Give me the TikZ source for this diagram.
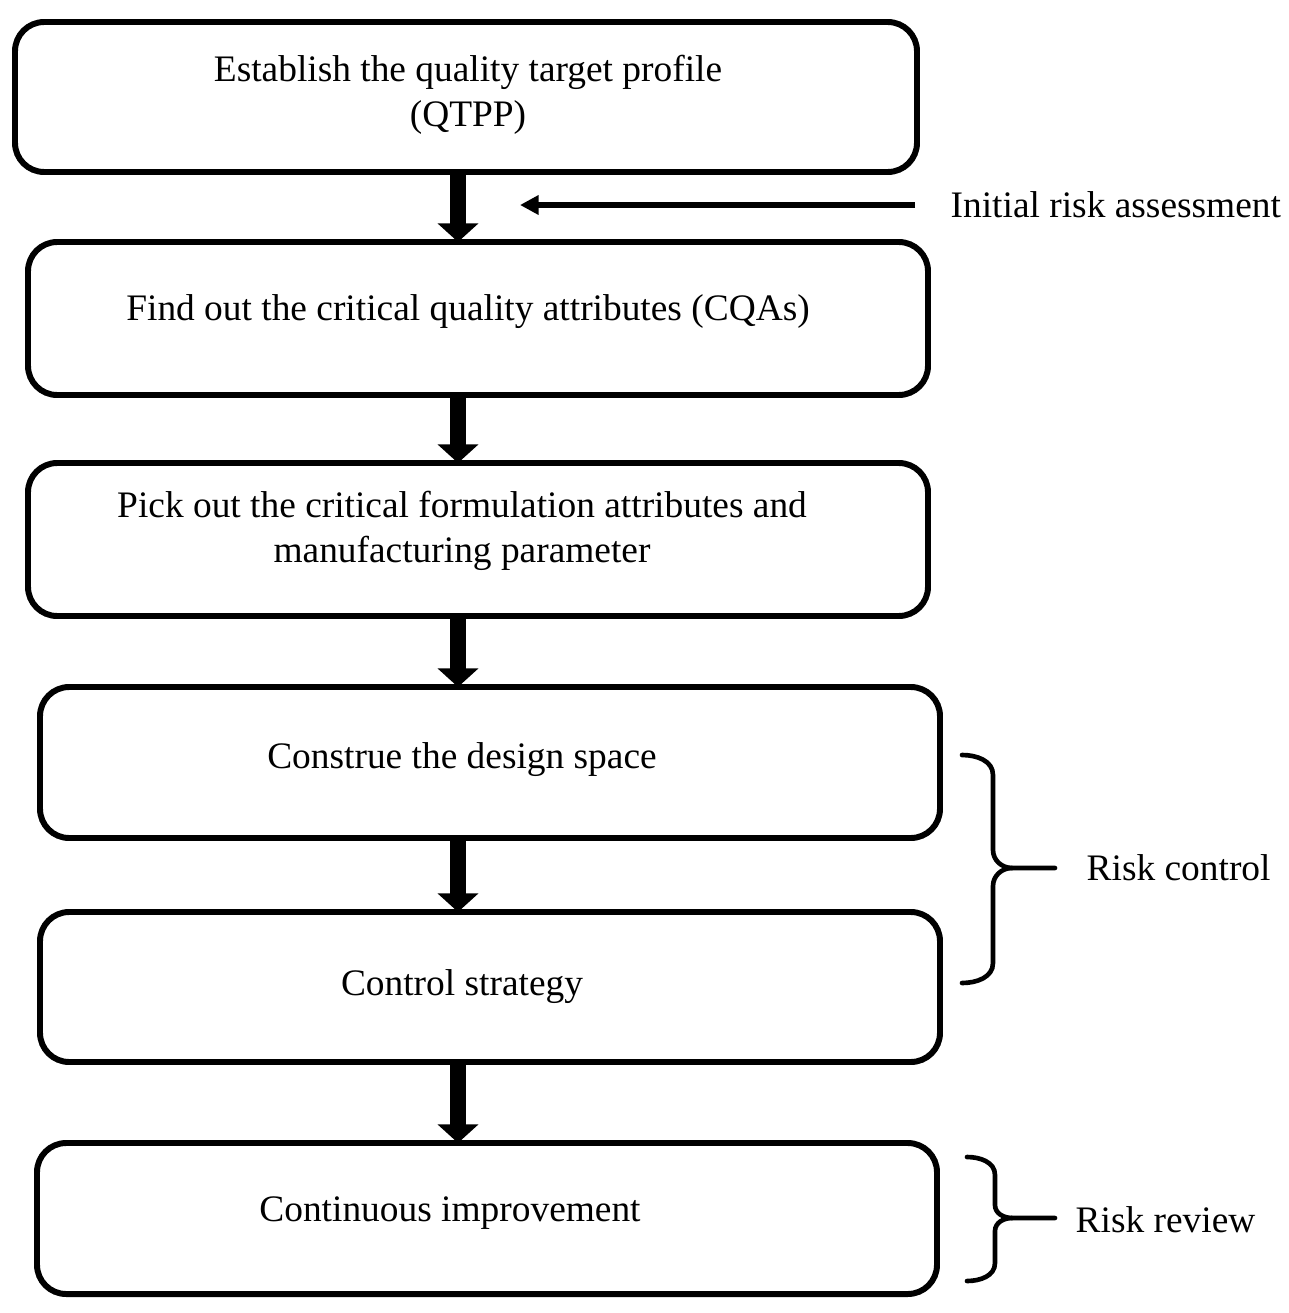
\documentclass[tikz,border=0pt]{standalone}
\usepackage{fontspec}
\setmainfont{Liberation Serif}
\usetikzlibrary{arrows.meta}
\begin{document}
\begin{tikzpicture}[x=0.0265cm,y=-0.0265cm,
  box/.style={draw,line width=4.5pt,rounded corners=22pt},
  txt/.style={font=\fontsize{28.2}{34}\selectfont,align=center},
  big/.style={line width=12pt,-{Triangle[width=30pt,length=14pt]}},
  br/.style={line width=3.5pt,line cap=round}]
\useasboundingbox (0,0) rectangle (1288,1313);
\draw[box] (15,22) rectangle (917,172); \coordinate (b1) at (458,172);
\node[txt] (t1) at (468,95) {Establish the quality target profile\\(QTPP)};
\draw[box] (28,242) rectangle (928,395); \coordinate (a2) at (458,242); \coordinate (b2) at (458,395);
\node[txt] (t2) at (468,312) {Find out the critical quality attributes (CQAs)};
\draw[box] (28,463) rectangle (928,616); \coordinate (a3) at (458,463); \coordinate (b3) at (458,616);
\node[txt] (t3) at (462,531) {Pick out the critical formulation attributes and\\manufacturing parameter};
\draw[box] (40,687) rectangle (940,838); \coordinate (a4) at (458,687); \coordinate (b4) at (458,838);
\node[txt] (t4) at (462,760) {Construe the design space};
\draw[box] (40,912) rectangle (940,1062); \coordinate (a5) at (458,912); \coordinate (b5) at (458,1062);
\node[txt] (t5) at (462,987) {Control strategy};
\draw[box] (37,1143) rectangle (937,1294); \coordinate (a6) at (458,1143);
\node[txt] (t6) at (450,1213) {Continuous improvement};
\draw[big] (b1) -- (a2);
\draw[big] (b2) -- (a3);
\draw[big] (b3) -- (a4);
\draw[big] (b4) -- (a5);
\draw[big] (b5) -- (a6);
\coordinate (ia) at (915,205); \coordinate (ib) at (520,205);
\draw[line width=4pt,-{Triangle[width=14pt,length=14pt]}] (ia) -- (ib);
\node[txt,anchor=west] (ir) at (946,205) {Initial risk assessment};
\draw[br] (962,755) to[out=0,in=90] (993,775) -- (993,850) to[out=-90,in=180] (1012,868) -- (1055,868);
\draw[br] (962,983) to[out=0,in=-90] (993,963) -- (993,886) to[out=90,in=180] (1012,868);
\node[txt,anchor=west] (rc) at (1082,868) {Risk control};
\draw[br] (967,1157) to[out=0,in=90] (995,1175) -- (995,1205) to[out=-90,in=180] (1012,1218) -- (1055,1218);
\draw[br] (967,1281) to[out=0,in=-90] (995,1263) -- (995,1231) to[out=90,in=180] (1012,1218);
\node[txt,anchor=west] (rr) at (1071,1220) {Risk review};
\end{tikzpicture}
\end{document}
